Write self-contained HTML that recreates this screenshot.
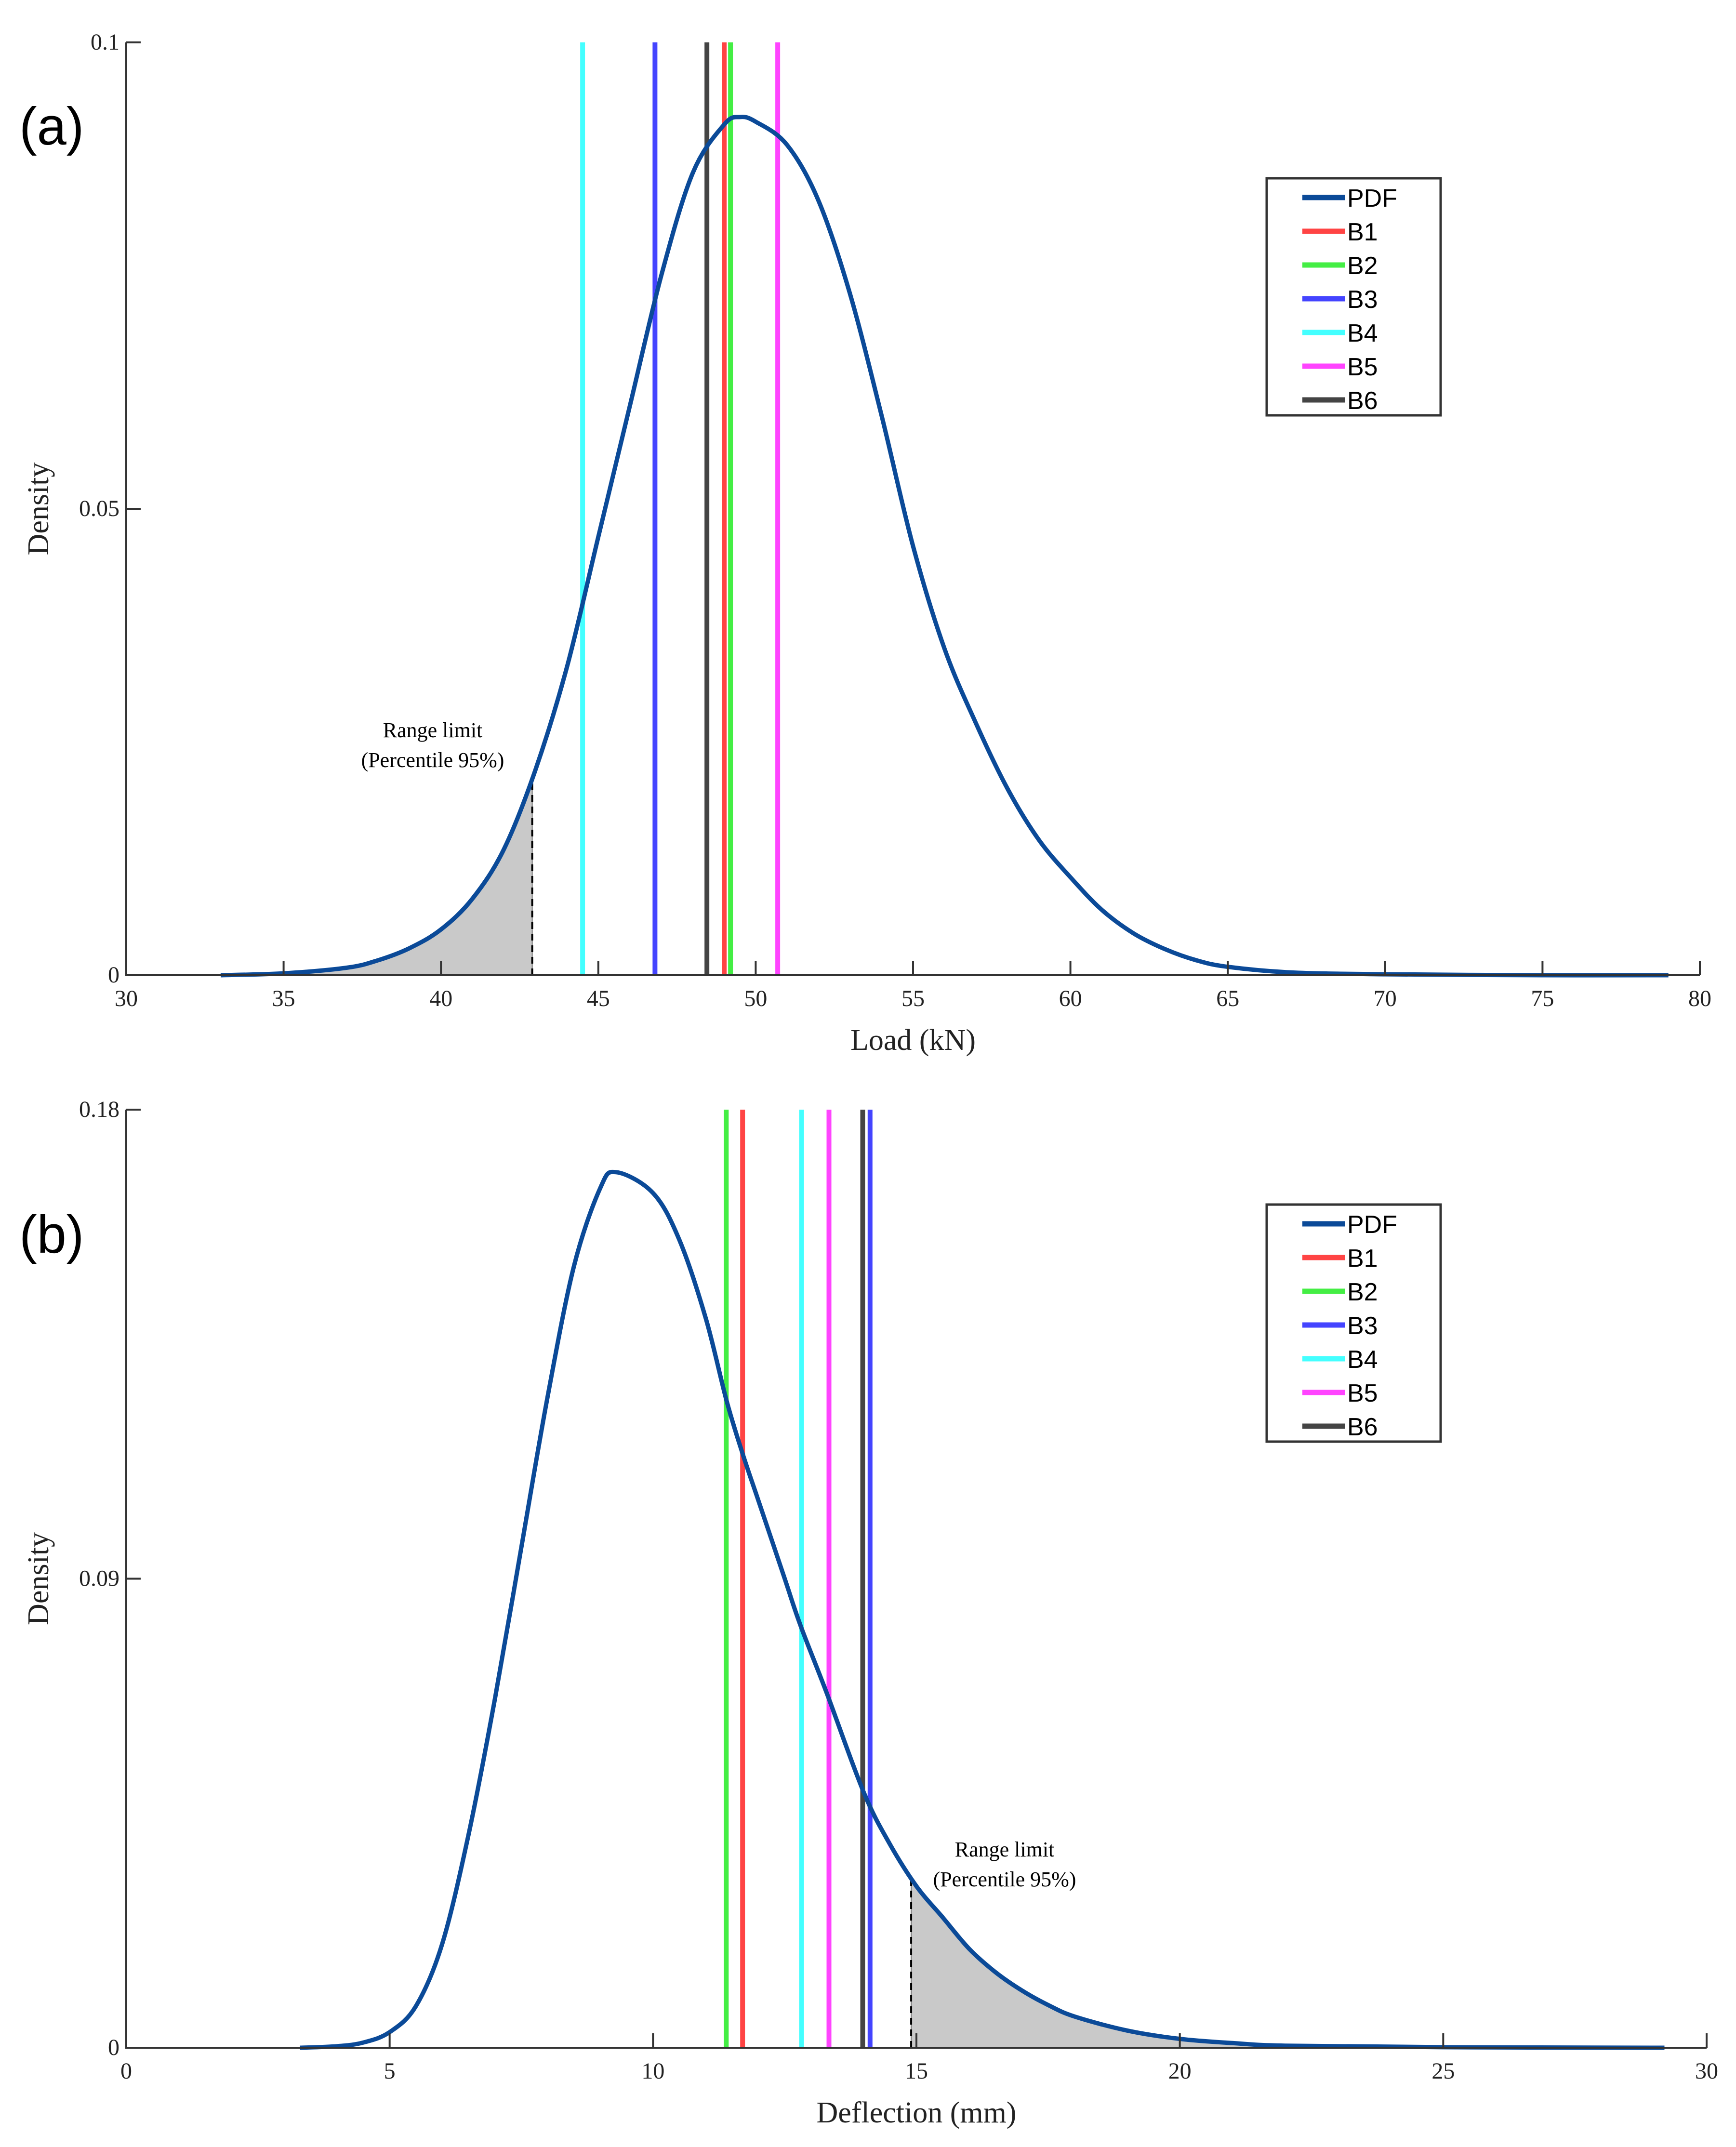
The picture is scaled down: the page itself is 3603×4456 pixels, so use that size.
<!DOCTYPE html>
<html><head><meta charset="utf-8"><title>PDF charts</title>
<style>
html,body{margin:0;padding:0;background:#fff;}
svg{display:block;}
.tick{font-family:"Liberation Serif",serif;font-size:48px;fill:#222;}
.axt{font-family:"Liberation Serif",serif;font-size:62px;fill:#222;}
.leg{font-family:"Liberation Sans",sans-serif;font-size:52px;fill:#000;}
.pl{font-family:"Liberation Sans",sans-serif;font-size:110px;fill:#000;}
.ann{font-family:"Liberation Serif",serif;font-size:44px;fill:#000;}
</style></head>
<body>
<svg id="fig" width="3603" height="4456" viewBox="0 0 3603 4456" xmlns="http://www.w3.org/2000/svg">
<rect x="0" y="0" width="3603" height="4456" fill="#fff"/>
</svg>
<script>
// ---- Panel (a) data ----
const aX = [33,35,37,38,39,40,41,42,43,44,45,46,47,48,49,49.5,50,51,52,53,54,55,56,57,58,59,60,61,62,63,64,65,67,70,75,79];
const aY = [0,0.0002,0.0008,0.0016,0.0029,0.0049,0.0082,0.0135,0.022,0.033,0.047,0.061,0.075,0.086,0.0912,0.092,0.0915,0.089,0.083,0.073,0.060,0.046,0.035,0.027,0.020,0.0145,0.0105,0.007,0.0045,0.0028,0.0016,0.0009,0.0003,0.0001,0,0];
const aLines = [49.0,49.2,46.8,44.5,50.7,48.45];
const aXTicks = [30,35,40,45,50,55,60,65,70,75,80];
const aYTicks = [0,0.05,0.1];
const aYTickLabels = ["0","0.05","0.1"];
const aLimit = 42.9;
// ---- Panel (b) data ----
const bX = [3.3,4,4.5,5,5.5,6,6.5,7,7.5,8,8.5,9,9.3,10,10.5,11,11.4,11.7,12,12.5,12.8,13.3,14,14.5,15,15.5,16,16.5,17,17.5,18,19,20,21,22,25,29.2];
const bY = [0,0.0003,0.001,0.003,0.008,0.020,0.041,0.067,0.096,0.125,0.150,0.165,0.168,0.164,0.155,0.140,0.124,0.114,0.105,0.090,0.081,0.068,0.049,0.039,0.031,0.025,0.019,0.0145,0.011,0.0082,0.006,0.0033,0.0017,0.0009,0.0004,0.0001,0];
const bLines = [11.7,11.39,14.12,12.82,13.34,13.98];
const bXTicks = [0,5,10,15,20,25,30];
const bYTicks = [0,0.09,0.18];
const bYTickLabels = ["0","0.09","0.18"];
const bLimit = 14.9;
// ---- shared ----
const seriesNames = ["B1","B2","B3","B4","B5","B6"];
const seriesColors = ["#ff4444","#44ee44","#4444ff","#44ffff","#ff44ff","#444444"];

const NS = "http://www.w3.org/2000/svg";
const svg = document.getElementById('fig');
function mk(tag, attrs, parent, text){
  const e = document.createElementNS(NS, tag);
  for (const k in attrs) e.setAttribute(k, attrs[k]);
  if (text !== undefined) e.textContent = text;
  (parent||svg).appendChild(e);
  return e;
}
function interp(xs, ys, x){
  for (let i=0;i<xs.length-1;i++){ if (x>=xs[i] && x<=xs[i+1]){ const t=(x-xs[i])/(xs[i+1]-xs[i]); return ys[i]+t*(ys[i+1]-ys[i]); } }
  return 0;
}
function smooth(P, start){
  let d = start ? 'M'+P[0][0].toFixed(1)+','+P[0][1].toFixed(1) : ' L'+P[0][0].toFixed(1)+','+P[0][1].toFixed(1);
  for (let i=0;i<P.length-1;i++){
    const p0=P[Math.max(0,i-1)], p1=P[i], p2=P[i+1], p3=P[Math.min(P.length-1,i+2)];
    const c1=[p1[0]+(p2[0]-p0[0])/6, p1[1]+(p2[1]-p0[1])/6];
    const c2=[p2[0]-(p3[0]-p1[0])/6, p2[1]-(p3[1]-p1[1])/6];
    d+=' C'+c1[0].toFixed(1)+','+c1[1].toFixed(1)+' '+c2[0].toFixed(1)+','+c2[1].toFixed(1)+' '+p2[0].toFixed(1)+','+p2[1].toFixed(1);
  }
  return d;
}
function panel(o){
  const g = mk('g',{});
  
  
  const sx = v => o.x0 + (v-o.xmin)/(o.xmax-o.xmin)*(o.x1-o.x0);
  const sy = v => o.y0 - (v-o.ymin)/(o.ymax-o.ymin)*(o.y0-o.y1);
  const ly = interp(o.xs,o.ys,o.limit);
  const sub = [];
  if (o.shadeLeft){
    for (let i=0;i<o.xs.length;i++) if (o.xs[i]<o.limit) sub.push([sx(o.xs[i]),sy(o.ys[i])]);
    sub.push([sx(o.limit),sy(ly)]);
  } else {
    sub.push([sx(o.limit),sy(ly)]);
    for (let i=0;i<o.xs.length;i++) if (o.xs[i]>o.limit) sub.push([sx(o.xs[i]),sy(o.ys[i])]);
  }
  let d = 'M'+sub[0][0]+','+sy(0)+smooth(sub,false)+' L'+sub[sub.length-1][0]+','+sy(0)+' Z';
  const sh = mk('path',{d:d,fill:'#c9c9c9',stroke:'#777','stroke-width':2},g);
  
  
  const dl = mk('line',{x1:sx(o.limit),x2:sx(o.limit),y1:sy(0),y2:sy(ly),stroke:'#000','stroke-width':4,'stroke-dasharray':'14,10'},g);
  
  
  for (let i=0;i<o.lines.length;i++){
    const l = mk('line',{x1:sx(o.lines[i]),x2:sx(o.lines[i]),y1:sy(0),y2:sy(o.ymax),stroke:seriesColors[i],'stroke-width':10},g);
    
    
  }
  const P = o.xs.map((x,i)=>[sx(x),sy(o.ys[i])]);
  const c = mk('path',{d:smooth(P,true),fill:'none',stroke:'#0b4a98','stroke-width':9,'stroke-linejoin':'round'},g);
  
  
  const ax = mk('path',{d:'M'+o.x0+','+o.y1+' L'+o.x0+','+o.y0+' L'+o.x1+','+o.y0,fill:'none',stroke:'#333','stroke-width':4},g);
  
  
  for (const t of o.xticks){
    mk('line',{x1:sx(t),x2:sx(t),y1:o.y0,y2:o.y0-30,stroke:'#333','stroke-width':4},g);
    const tl = mk('text',{x:sx(t),y:o.y0+64,'text-anchor':'middle',class:'tick'},g,String(t));
    
    
  }
  for (let i=0;i<o.yticks.length;i++){
    const t=o.yticks[i];
    mk('line',{x1:o.x0,x2:o.x0+30,y1:sy(t),y2:sy(t),stroke:'#333','stroke-width':4},g);
    const tl = mk('text',{x:o.x0-14,y:sy(t)+15,'text-anchor':'end',class:'tick'},g,o.ylabels[i]);
    
    
  }
  const xt = mk('text',{x:(o.x0+o.x1)/2,y:o.y0+155,'text-anchor':'middle',class:'axt'},g,o.xtitle);
  
  
  const ym = (o.y0+o.y1)/2;
  const yt = mk('text',{x:100,y:ym,'text-anchor':'middle',class:'axt',transform:'rotate(-90 100 '+ym+')'},g,'Density');
  
  
  const pl = mk('text',{x:40,y:o.plY,class:'pl'},g,o.label);
  
  
  const an = mk('text',{x:o.annX,y:o.annY,'text-anchor':'middle',class:'ann'},g);
  
  
  mk('tspan',{x:o.annX,dy:0},an,'Range limit');
  mk('tspan',{x:o.annX,dy:62},an,'(Percentile 95%)');
  const lg = mk('g',{},g);
  
  
  mk('rect',{x:2629,y:o.legY,width:361,height:492,fill:'#fff',stroke:'#333','stroke-width':5},lg);
  const names = ['PDF'].concat(seriesNames), cols=['#0b4a98'].concat(seriesColors);
  for (let i=0;i<names.length;i++){
    const yy = o.legY+40+i*70;
    const en = mk('g',{},lg);
    
    
    mk('line',{x1:2703,x2:2791,y1:yy,y2:yy,stroke:cols[i],'stroke-width':11},en);
    mk('text',{x:2796,y:yy+19,class:'leg'},en,names[i]);
  }
}
panel({name:'panel-a-load',xs:aX,ys:aY,lines:aLines,xticks:aXTicks,yticks:aYTicks,ylabels:aYTickLabels,
  xmin:30,xmax:80,ymin:0,ymax:0.1,x0:262,x1:3528,y0:2024,y1:88,limit:aLimit,shadeLeft:true,
  xtitle:'Load (kN)',label:'(a)',plY:300,annX:898,annY:1530,legY:370});
panel({name:'panel-b-deflection',xs:bX,ys:bY,lines:bLines,xticks:bXTicks,yticks:bYTicks,ylabels:bYTickLabels,
  xmin:0,xmax:30,ymin:0,ymax:0.18,x0:262,x1:3542,y0:4250,y1:2303,limit:bLimit,shadeLeft:false,
  xtitle:'Deflection (mm)',label:'(b)',plY:2600,annX:2085,annY:3853,legY:2500});
</script>
</body></html>
